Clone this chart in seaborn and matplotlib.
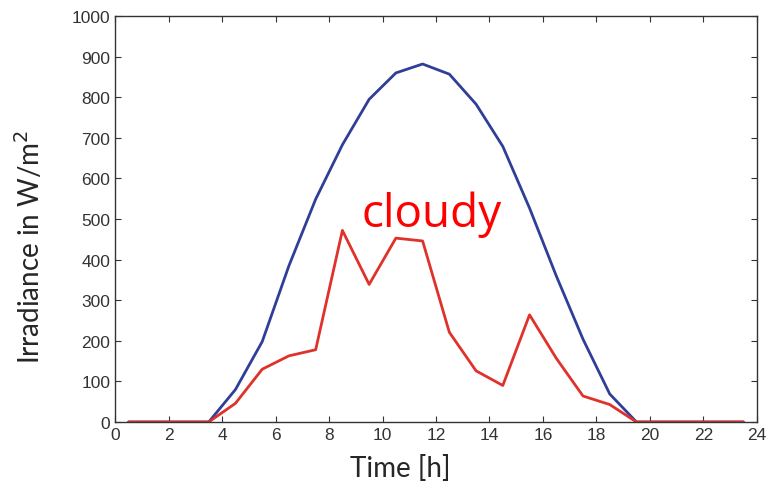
import numpy as np
import pandas as pd
import matplotlib
matplotlib.use("Agg")
import matplotlib.pyplot as plt
import seaborn as sns

# hourly irradiance samples (taken at half hours)
hours = [0.5, 1.5, 2.5, 3.5, 4.5, 5.5, 6.5, 7.5, 8.5, 9.5, 10.5, 11.5,
         12.5, 13.5, 14.5, 15.5, 16.5, 17.5, 18.5, 19.5, 20.5, 21.5, 22.5, 23.5]
clear_sky = [0, 0, 0, 0, 80, 198, 385, 549, 683, 795, 860, 882,
             857, 783, 679, 527, 360, 204, 69, 0, 0, 0, 0, 0]
cloudy = [0, 0, 0, 0, 46, 130, 163, 178, 472, 339, 453, 446,
          221, 126, 90, 264, 157, 64, 43, 0, 0, 0, 0, 0]

x_ticks = list(range(0, 25, 2))
y_ticks = list(range(0, 1001, 100))

df = pd.DataFrame({'hour': hours * 2,
                   'irradiance': clear_sky + cloudy,
                   'day': ['clear'] * len(hours) + ['cloudy'] * len(hours)})

sns.set_style("ticks")
plt.rcParams['font.family'] = ['Liberation Sans', 'DejaVu Sans']

fig = plt.figure(figsize=(7.73, 4.89), dpi=100)
ax = fig.add_axes([0.149, 0.135, 0.830, 0.830])

sns.lineplot(data=df, x='hour', y='irradiance', hue='day',
             palette={'clear': '#2f3f98', 'cloudy': '#e0312b'},
             linewidth=2, legend=False, ax=ax)

ax.set_xlim(0, 24)
ax.set_ylim(0, 1000)
ax.set_xticks(x_ticks)
ax.set_yticks(y_ticks)
ax.tick_params(direction='in', top=True, right=True, length=4,
               labelsize=12.5, labelcolor='#333333', color='#333333')
for s in ax.spines.values():
    s.set_color('#333333')
    s.set_linewidth(1)

label_font = ['Lato', 'DejaVu Sans']
ax.set_xlabel('Time [h]', fontsize=20, family=label_font)
ax.set_ylabel('Irradiance in W/m$^2$', fontsize=20, family=label_font)
ax.xaxis.set_label_coords(0.445, -0.08)
ax.yaxis.set_label_coords(-0.11, 0.433)

ax.text(11.85, 512, 'cloudy', color='red', fontsize=33, ha='center', va='center',
        family=['Open Sans', 'DejaVu Sans'])

fig.savefig('out.png', dpi=100)
